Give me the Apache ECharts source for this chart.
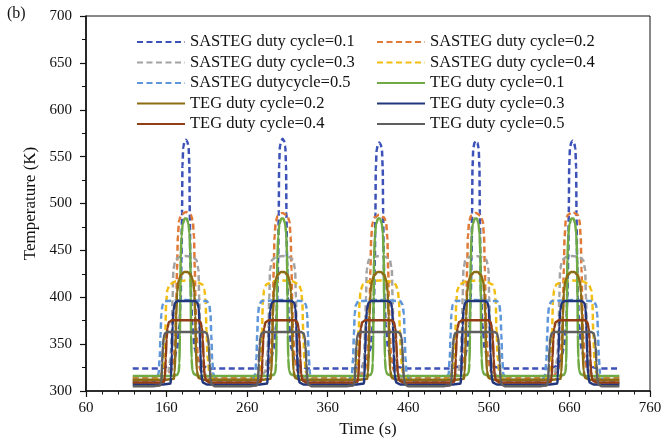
<!DOCTYPE html>
<html>
<head>
<meta charset="utf-8">
<script src="https://cdn.jsdelivr.net/npm/echarts@6/dist/echarts.min.js"></script>
<style>
  html, body { margin: 0; padding: 0; background: #fff; }
  #chart { width: 663px; height: 443px; }
</style>
</head>
<body>
<div id="chart"></div>
<script>
// Temperature histories, [time (s), temperature (K)], five heating pulses each.
const seriesNames = [
  'SASTEG duty cycle=0.1', 'SASTEG duty cycle=0.2', 'SASTEG duty cycle=0.3',
  'SASTEG duty cycle=0.4', 'SASTEG dutycycle=0.5',
  'TEG duty cycle=0.1', 'TEG duty cycle=0.2', 'TEG duty cycle=0.3',
  'TEG duty cycle=0.4', 'TEG duty cycle=0.5'
];

const sasteg01 = [
  [118,324],[152,324],[162,326],[169,332],[173,345],[176,370],[177.5,400],[178.5,440],[179.2,490],[179.7,540],[180.7,560],[182.2,566],[184,568],[185.8,566],[187.3,560],[188.3,540],[188.8,490],[189.5,440],[190.5,400],[192,370],[195,345],[199,332],[206,326],[216,324],
  [272,324],[282,326],[289,332],[293,345],[296,370],[297.5,400],[298.5,440],[299.2,490],[299.7,541],[300.7,561],[302.2,567],[304,569],[305.8,567],[307.3,561],[308.3,541],[308.8,490],[309.5,440],[310.5,400],[312,370],[315,345],[319,332],[326,326],[336,324],
  [392,324],[402,326],[409,332],[413,345],[416,370],[417.5,400],[418.5,440],[419.2,490],[419.7,537],[420.7,557],[422.2,563],[424,565],[425.8,563],[427.3,557],[428.3,537],[428.8,490],[429.5,440],[430.5,400],[432,370],[435,345],[439,332],[446,326],[456,324],
  [512,324],[522,326],[529,332],[533,345],[536,370],[537.5,400],[538.5,440],[539.2,490],[539.7,539],[540.7,559],[542.2,565],[544,567],[545.8,565],[547.3,559],[548.3,539],[548.8,490],[549.5,440],[550.5,400],[552,370],[555,345],[559,332],[566,326],[576,324],
  [632,324],[642,326],[649,332],[653,345],[656,370],[657.5,400],[658.5,440],[659.2,490],[659.7,539],[660.7,559],[662.2,565],[664,567],[665.8,565],[667.3,559],[668.3,539],[668.8,490],[669.5,440],[670.5,400],[672,370],[675,345],[679,332],[686,326],[696,324],[722,324]
];

const sasteg02 = [
  [118,314],[150,314],[160,316],[166,322],[169,335],[171,360],[172,390],[173,430],[174,465],[175.5,482],[178,488],[184,491],[190,488],[192.5,482],[194,465],[195,430],[196,390],[197,360],[199,335],[202,322],[208,316],[218,314],
  [270,314],[280,316],[286,322],[289,335],[291,360],[292,390],[293,430],[294,465],[295.5,481],[298,487],[304,490],[310,487],[312.5,481],[314,465],[315,430],[316,390],[317,360],[319,335],[322,322],[328,316],[338,314],
  [390,314],[400,316],[406,322],[409,335],[411,360],[412,390],[413,430],[414,464],[415.5,479],[418,485],[424,488],[430,485],[432.5,479],[434,464],[435,430],[436,390],[437,360],[439,335],[442,322],[448,316],[458,314],
  [510,314],[520,316],[526,322],[529,335],[531,360],[532,390],[533,430],[534,465],[535.5,481],[538,487],[544,490],[550,487],[552.5,481],[554,465],[555,430],[556,390],[557,360],[559,335],[562,322],[568,316],[578,314],
  [630,314],[640,316],[646,322],[649,335],[651,360],[652,390],[653,430],[654,465],[655.5,482],[658,488],[664,491],[670,488],[672.5,482],[674,465],[675,430],[676,390],[677,360],[679,335],[682,322],[688,316],[698,314],[722,314]
];

const sasteg03 = [
  [118,312],[146,312],[156,314],[162,320],[165,335],[166.5,365],[167.5,400],[168.5,430],[171,440],[176,443],[184,444],[192,443],[197,440],[199.5,430],[200.5,400],[201.5,365],[203,335],[206,320],[212,314],[222,312],
  [266,312],[276,314],[282,320],[285,335],[286.5,365],[287.5,400],[288.5,430],[291,440],[296,443],[304,444],[312,443],[317,440],[319.5,430],[320.5,400],[321.5,365],[323,335],[326,320],[332,314],[342,312],
  [386,312],[396,314],[402,320],[405,335],[406.5,365],[407.5,400],[408.5,430],[411,440],[416,443],[424,444],[432,443],[437,440],[439.5,430],[440.5,400],[441.5,365],[443,335],[446,320],[452,314],[462,312],
  [506,312],[516,314],[522,320],[525,335],[526.5,365],[527.5,400],[528.5,430],[531,440],[536,443],[544,444],[552,443],[557,440],[559.5,430],[560.5,400],[561.5,365],[563,335],[566,320],[572,314],[582,312],
  [626,312],[636,314],[642,320],[645,335],[646.5,365],[647.5,400],[648.5,430],[651,440],[656,443],[664,444],[672,443],[677,440],[679.5,430],[680.5,400],[681.5,365],[683,335],[686,320],[692,314],[702,312],[722,312]
];

const sasteg04 = [
  [118,311],[140,311],[150,313],[155,320],[157,335],[158.5,365],[159.5,395],[161,408],[164,414],[172,417],[184,418],[196,417],[204,414],[207,408],[208.5,395],[209.5,365],[211,335],[213,320],[218,313],[228,311],
  [260,311],[270,313],[275,320],[277,335],[278.5,365],[279.5,395],[281,408],[284,414],[292,417],[304,418],[316,417],[324,414],[327,408],[328.5,395],[329.5,365],[331,335],[333,320],[338,313],[348,311],
  [380,311],[390,313],[395,320],[397,335],[398.5,365],[399.5,395],[401,408],[404,414],[412,417],[424,418],[436,417],[444,414],[447,408],[448.5,395],[449.5,365],[451,335],[453,320],[458,313],[468,311],
  [500,311],[510,313],[515,320],[517,335],[518.5,365],[519.5,395],[521,408],[524,414],[532,417],[544,418],[556,417],[564,414],[567,408],[568.5,395],[569.5,365],[571,335],[573,320],[578,313],[588,311],
  [620,311],[630,313],[635,320],[637,335],[638.5,365],[639.5,395],[641,408],[644,414],[652,417],[664,418],[676,417],[684,414],[687,408],[688.5,395],[689.5,365],[691,335],[693,320],[698,313],[708,311],[722,311]
];

const sasteg05 = [
  [118,309],[138,309],[146,311],[150,318],[151.5,335],[152.5,360],[153.5,382],[155,392],[158,396],[184,397],[210,396],[213,392],[214.5,382],[215.5,360],[216.5,335],[218,318],[222,311],[230,309],
  [258,309],[266,311],[270,318],[271.5,335],[272.5,360],[273.5,382],[275,392],[278,396],[304,397],[330,396],[333,392],[334.5,382],[335.5,360],[336.5,335],[338,318],[342,311],[350,309],
  [378,309],[386,311],[390,318],[391.5,335],[392.5,360],[393.5,382],[395,392],[398,396],[424,397],[450,396],[453,392],[454.5,382],[455.5,360],[456.5,335],[458,318],[462,311],[470,309],
  [498,309],[506,311],[510,318],[511.5,335],[512.5,360],[513.5,382],[515,392],[518,396],[544,397],[570,396],[573,392],[574.5,382],[575.5,360],[576.5,335],[578,318],[582,311],[590,309],
  [618,309],[626,311],[630,318],[631.5,335],[632.5,360],[633.5,382],[635,392],[638,396],[664,397],[690,396],[693,392],[694.5,382],[695.5,360],[696.5,335],[698,318],[702,311],[710,309],[722,309]
];

const teg01 = [
  [118,316],[166,316],[173,317],[175,320],[176,330],[176.5,360],[177,400],[177.5,440],[178.5,465],[180,478],[182.5,484],[185,484],[187,479],[188.5,468],[189.5,445],[190,400],[190.5,360],[191,335],[192,322],[194,318],[200,316],
  [286,316],[293,317],[295,320],[296,330],[296.5,360],[297,400],[297.5,440],[298.5,465],[300,478],[302.5,484],[305,484],[307,479],[308.5,468],[309.5,445],[310,400],[310.5,360],[311,335],[312,322],[314,318],[320,316],
  [406,316],[413,317],[415,320],[416,330],[416.5,360],[417,400],[417.5,440],[418.5,465],[420,478],[422.5,484],[425,484],[427,479],[428.5,468],[429.5,445],[430,400],[430.5,360],[431,335],[432,322],[434,318],[440,316],
  [526,316],[533,317],[535,320],[536,330],[536.5,360],[537,400],[537.5,440],[538.5,465],[540,478],[542.5,484],[545,484],[547,479],[548.5,468],[549.5,445],[550,400],[550.5,360],[551,335],[552,322],[554,318],[560,316],
  [646,316],[653,317],[655,320],[656,330],[656.5,360],[657,400],[657.5,440],[658.5,465],[660,478],[662.5,484],[665,484],[667,479],[668.5,468],[669.5,445],[670,400],[670.5,360],[671,335],[672,322],[674,318],[680,316],[722,316]
];

const teg02 = [
  [118,312],[160,312],[169,313],[170,320],[171,345],[172,380],[173,405],[175,418],[178,424],[182,427],[186,427],[190,424],[193,417],[194.5,405],[195.5,380],[196.5,345],[197.5,322],[199.5,314],[206,312],
  [280,312],[289,313],[290,320],[291,345],[292,380],[293,405],[295,418],[298,424],[302,427],[306,427],[310,424],[313,417],[314.5,405],[315.5,380],[316.5,345],[317.5,322],[319.5,314],[326,312],
  [400,312],[409,313],[410,320],[411,345],[412,380],[413,405],[415,418],[418,424],[422,427],[426,427],[430,424],[433,417],[434.5,405],[435.5,380],[436.5,345],[437.5,322],[439.5,314],[446,312],
  [520,312],[529,313],[530,320],[531,345],[532,380],[533,405],[535,418],[538,424],[542,427],[546,427],[550,424],[553,417],[554.5,405],[555.5,380],[556.5,345],[557.5,322],[559.5,314],[566,312],
  [640,312],[649,313],[650,320],[651,345],[652,380],[653,405],[655,418],[658,424],[662,427],[666,427],[670,424],[673,417],[674.5,405],[675.5,380],[676.5,345],[677.5,322],[679.5,314],[686,312],[722,312]
];

const teg03 = [
  [118,307],[156,307],[165,308],[165.5,315],[166.5,340],[167.5,370],[168.5,386],[170.5,394],[174,396],[195,396],[198.5,394],[200,388],[201,370],[202,340],[203,318],[205,309],[210,307],
  [276,307],[285,308],[285.5,315],[286.5,340],[287.5,370],[288.5,386],[290.5,394],[294,396],[315,396],[318.5,394],[320,388],[321,370],[322,340],[323,318],[325,309],[330,307],
  [396,307],[405,308],[405.5,315],[406.5,340],[407.5,370],[408.5,386],[410.5,394],[414,396],[435,396],[438.5,394],[440,388],[441,370],[442,340],[443,318],[445,309],[450,307],
  [516,307],[525,308],[525.5,315],[526.5,340],[527.5,370],[528.5,386],[530.5,394],[534,396],[555,396],[558.5,394],[560,388],[561,370],[562,340],[563,318],[565,309],[570,307],
  [636,307],[645,308],[645.5,315],[646.5,340],[647.5,370],[648.5,386],[650.5,394],[654,396],[675,396],[678.5,394],[680,388],[681,370],[682,340],[683,318],[685,309],[690,307],[722,307]
];

const teg04 = [
  [118,309],[150,309],[157,310],[158,315],[159,335],[160,355],[161,367],[163,373.5],[167,375.5],[199,375.5],[202,373.5],[204,367],[205,355],[206,335],[207,318],[209,311],[214,309],
  [270,309],[277,310],[278,315],[279,335],[280,355],[281,367],[283,373.5],[287,375.5],[319,375.5],[322,373.5],[324,367],[325,355],[326,335],[327,318],[329,311],[334,309],
  [390,309],[397,310],[398,315],[399,335],[400,355],[401,367],[403,373.5],[407,375.5],[439,375.5],[442,373.5],[444,367],[445,355],[446,335],[447,318],[449,311],[454,309],
  [510,309],[517,310],[518,315],[519,335],[520,355],[521,367],[523,373.5],[527,375.5],[559,375.5],[562,373.5],[564,367],[565,355],[566,335],[567,318],[569,311],[574,309],
  [630,309],[637,310],[638,315],[639,335],[640,355],[641,367],[643,373.5],[647,375.5],[679,375.5],[682,373.5],[684,367],[685,355],[686,335],[687,318],[689,311],[694,309],[722,309]
];

const teg05 = [
  [118,305],[144,305],[152,306],[153.5,310],[154.5,330],[155.5,348],[156.5,357],[158,361.5],[161,363],[207,363],[210,361.5],[211.5,357],[212.5,348],[213.5,330],[214.5,313],[216,307],[220,305],
  [264,305],[272,306],[273.5,310],[274.5,330],[275.5,348],[276.5,357],[278,361.5],[281,363],[327,363],[330,361.5],[331.5,357],[332.5,348],[333.5,330],[334.5,313],[336,307],[340,305],
  [384,305],[392,306],[393.5,310],[394.5,330],[395.5,348],[396.5,357],[398,361.5],[401,363],[447,363],[450,361.5],[451.5,357],[452.5,348],[453.5,330],[454.5,313],[456,307],[460,305],
  [504,305],[512,306],[513.5,310],[514.5,330],[515.5,348],[516.5,357],[518,361.5],[521,363],[567,363],[570,361.5],[571.5,357],[572.5,348],[573.5,330],[574.5,313],[576,307],[580,305],
  [624,305],[632,306],[633.5,310],[634.5,330],[635.5,348],[636.5,357],[638,361.5],[641,363],[687,363],[690,361.5],[691.5,357],[692.5,348],[693.5,330],[694.5,313],[696,307],[700,305],[722,305]
];

const seriesData = [sasteg01, sasteg02, sasteg03, sasteg04, sasteg05, teg01, teg02, teg03, teg04, teg05];
const seriesColors = ['#3D52B8', '#E07A38', '#A3A3A3', '#F2BE12', '#5E96DA',
                      '#6FAA45', '#8E6C14', '#22367C', '#913E17', '#5F5F5F'];
const dashedFlags = [true, true, true, true, true, false, false, false, false, false];

const FONT = '"Liberation Serif", "DejaVu Serif", serif';

const chart = echarts.init(document.getElementById('chart'), null, { renderer: 'canvas' });

const series = seriesNames.map((name, i) => ({
  name: name,
  type: 'line',
  data: seriesData[i],
  symbol: 'none',
  smooth: 0.3,
  smoothMonotone: 'x',
  animation: false,
  lineStyle: {
    color: seriesColors[i],
    width: 2.5,
    type: dashedFlags[i] ? [6, 3.5] : 'solid'
  },
  itemStyle: { color: seriesColors[i] }
}));

// Legend keys show only the line sample (no marker dot).
const legendCommon = {
  orient: 'vertical',
  top: 33.5,
  padding: 0,
  itemWidth: 48,
  itemHeight: 14,
  itemGap: 3.5,
  itemStyle: { opacity: 0 },
  textStyle: { fontFamily: FONT, fontSize: 16.5, color: '#111' },
  selectedMode: false
};

chart.setOption({
  backgroundColor: '#ffffff',
  animation: false,
  graphic: [{
    type: 'text',
    left: 7,
    top: 6,
    style: { text: '(b)', font: '16px ' + FONT, fill: '#111' }
  }],
  legend: [
    Object.assign({}, legendCommon, {
      left: 136,
      data: [seriesNames[0], seriesNames[2], seriesNames[4], seriesNames[6], seriesNames[8]]
    }),
    Object.assign({}, legendCommon, {
      left: 376,
      data: [seriesNames[1], seriesNames[3], seriesNames[5], seriesNames[7], seriesNames[9]]
    })
  ],
  grid: {
    left: 86, right: 13, top: 16, bottom: 52,
    show: true, borderColor: '#111', borderWidth: 1,
    outerBoundsMode: 'none'
  },
  xAxis: {
    type: 'value',
    min: 60, max: 760, interval: 100,
    name: 'Time (s)',
    nameLocation: 'middle',
    nameGap: 28,
    nameTextStyle: { fontFamily: FONT, fontSize: 17, color: '#111' },
    axisLine: { show: true, onZero: false, lineStyle: { color: '#111', width: 1.6 } },
    axisTick: { show: true, length: 6, lineStyle: { color: '#111', width: 1.2 } },
    minorTick: { show: true, splitNumber: 5, length: 3.5, lineStyle: { color: '#111', width: 1 } },
    splitLine: { show: false },
    axisLabel: { fontFamily: FONT, fontSize: 15, color: '#111', margin: 10 }
  },
  yAxis: {
    type: 'value',
    min: 300, max: 700, interval: 50,
    name: 'Temperature (K)',
    nameLocation: 'middle',
    nameGap: 45,
    nameTextStyle: { fontFamily: FONT, fontSize: 17, color: '#111' },
    axisLine: { show: true, onZero: false, lineStyle: { color: '#111', width: 1.6 } },
    axisTick: { show: true, length: 6, lineStyle: { color: '#111', width: 1.2 } },
    minorTick: { show: true, splitNumber: 2, length: 4, lineStyle: { color: '#111', width: 1 } },
    splitLine: { show: false },
    axisLabel: { fontFamily: FONT, fontSize: 15, color: '#111', margin: 14 }
  },
  series: series
});
</script>
</body>
</html>
